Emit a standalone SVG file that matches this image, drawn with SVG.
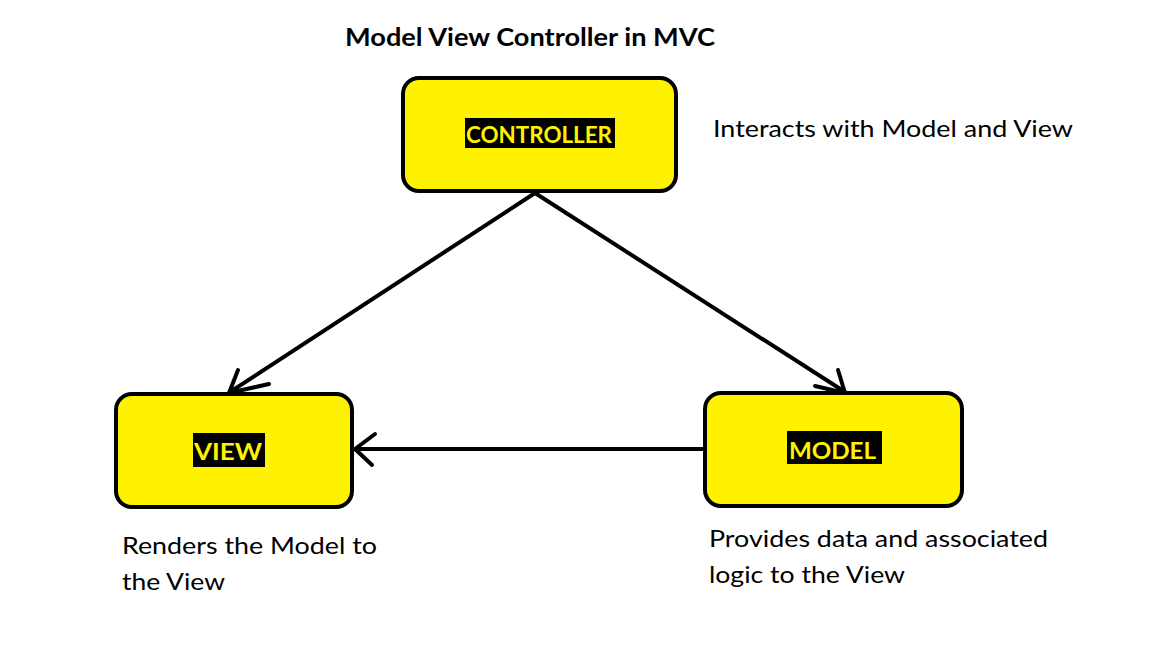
<svg xmlns="http://www.w3.org/2000/svg" width="1152" height="648" viewBox="0 0 1152 648">
<style>
.box{fill:#fff200;stroke:#000;stroke-width:4}
.lbl{fill:#000}
.lt{font-family:Lato,"Open Sans","Liberation Sans",sans-serif;font-weight:bold;font-size:23px;fill:#fff200}
.t{font-family:Lato,"Open Sans","Liberation Sans",sans-serif;font-size:24px;fill:#000}
.ttl{font-family:Lato,"Open Sans","Liberation Sans",sans-serif;font-weight:bold;font-size:24px;fill:#000}
.c{fill:none;stroke:#000;stroke-width:4;stroke-linecap:round;stroke-linejoin:round}
</style>
<rect width="1152" height="648" fill="#fff"/>
<text class="ttl" x="345" y="46" textLength="370" lengthAdjust="spacingAndGlyphs">Model View Controller in MVC</text>
<g id="connectors">
<path class="c" d="M535,193 L230,392"/>
<path class="c" d="M238,370 L229,393 L269,384"/>
<path class="c" d="M535,193 L845,392"/>
<path class="c" d="M838,370 L845,393 L815,386"/>
<path class="c" d="M704,449 L355,449"/>
<path class="c" d="M375,434 L355,449 L372,465"/>
</g>
<g id="controller">
<rect class="box" x="403" y="78" width="273" height="113" rx="16"/>
<rect class="lbl" x="465" y="118" width="150" height="30"/>
<text class="lt" x="466" y="143" textLength="146" lengthAdjust="spacingAndGlyphs">CONTROLLER</text>
</g>
<g id="view">
<rect class="box" x="116" y="394" width="236" height="113" rx="16"/>
<rect class="lbl" x="193" y="433" width="72" height="34"/>
<text class="lt" x="194" y="460" textLength="68" lengthAdjust="spacingAndGlyphs">VIEW</text>
</g>
<g id="model">
<rect class="box" x="705" y="393" width="257" height="113" rx="16"/>
<rect class="lbl" x="787" y="431" width="95" height="33"/>
<text class="lt" x="789" y="459" textLength="87" lengthAdjust="spacingAndGlyphs">MODEL</text>
</g>
<text class="t" x="713" y="137" textLength="360" lengthAdjust="spacingAndGlyphs">Interacts with Model and View</text>
<text class="t" x="122" y="554" textLength="255" lengthAdjust="spacingAndGlyphs">Renders the Model to</text>
<text class="t" x="122" y="590" textLength="103" lengthAdjust="spacingAndGlyphs">the View</text>
<text class="t" x="709" y="547" textLength="339" lengthAdjust="spacingAndGlyphs">Provides data and associated</text>
<text class="t" x="709" y="583" textLength="196" lengthAdjust="spacingAndGlyphs">logic to the View</text>
</svg>
